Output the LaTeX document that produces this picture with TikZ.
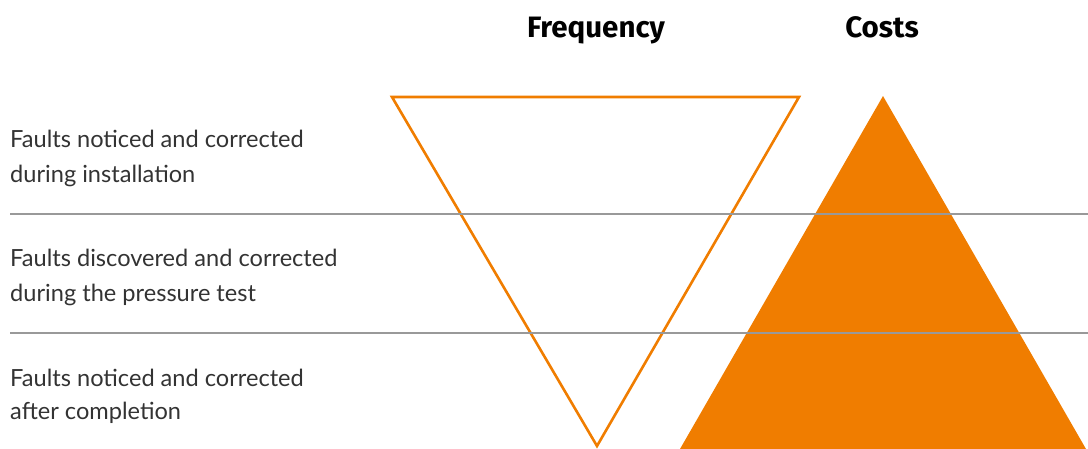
\documentclass[tikz,border=0pt]{standalone}
\usepackage{fontspec}
\setmainfont{Lato}
\newfontfamily\headfont{Fira Sans}
\definecolor{orng}{HTML}{F07D00}
\definecolor{txt}{HTML}{333333}
\definecolor{rule}{HTML}{999999}
\begin{document}
\begin{tikzpicture}[x=1pt,y=-1pt,
  lbl/.style={anchor=base west,inner sep=0pt,text=txt,font=\fontsize{23.6}{28}\selectfont},
  head/.style={anchor=base,inner sep=0pt,text=black,font=\headfont\bfseries\fontsize{29.5}{34}\selectfont},
  sep/.style={draw=rule,line width=1.6pt}]
\useasboundingbox (0,0) rectangle (1088,448);
% triangles
\coordinate (ftl) at (392,97);
\coordinate (ftr) at (799,97);
\coordinate (fb) at (597,446);
\draw[orng,line width=2.6pt,line join=miter] (ftl) -- (ftr) -- (fb) -- cycle;
\coordinate (ca) at (883,96);
\coordinate (cl) at (680,449);
\coordinate (cr) at (1086,449);
\fill[orng] (ca) -- (cr) -- (cl) -- cycle;
% separators
\coordinate (s1a) at (10,214); \coordinate (s1b) at (1088,214);
\coordinate (s2a) at (10,333); \coordinate (s2b) at (1088,333);
\draw[sep] (s1a) -- (s1b);
\draw[sep] (s2a) -- (s2b);
% headings
\node[head] (hf) at (596,37) {Frequency};
\node[head] (hc) at (882,37) {Costs};
% labels
\node[lbl] (l1a) at (10,147) {Faults noticed and corrected};
\node[lbl] (l1b) at (10,182) {during installation};
\node[lbl] (l2a) at (10,266) {Faults discovered and corrected};
\node[lbl] (l2b) at (10,301) {during the pressure test};
\node[lbl] (l3a) at (10,386) {Faults noticed and corrected};
\node[lbl] (l3b) at (10,419) {after completion};
\end{tikzpicture}
\end{document}
